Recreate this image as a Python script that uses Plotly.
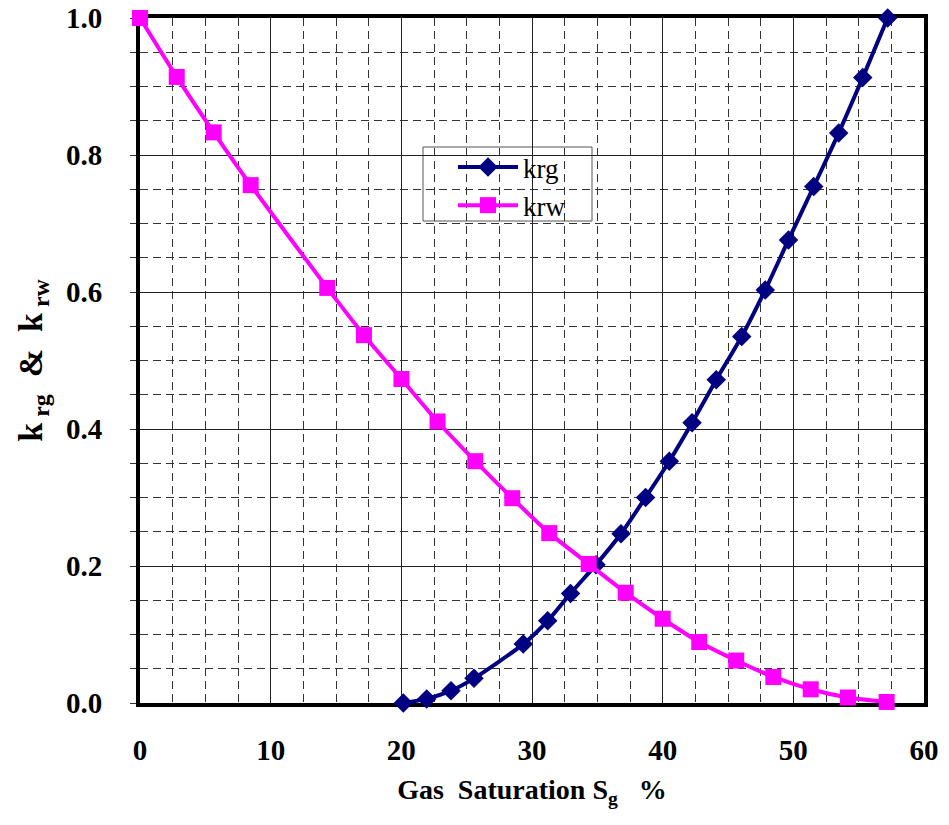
import plotly.graph_objects as go

# krg (gas relative permeability)
sg_krg = [20.15, 21.94, 23.80, 25.56, 29.33, 31.20, 32.95, 34.90, 36.81, 38.69,
          40.51, 42.25, 44.10, 46.05, 47.85, 49.63, 51.56, 53.47, 55.31, 57.22]
krg = [0.0, 0.006, 0.018, 0.036, 0.086, 0.120, 0.160, 0.202, 0.247, 0.300,
       0.353, 0.409, 0.472, 0.535, 0.603, 0.676, 0.754, 0.832, 0.913, 1.0]

# krw (water relative permeability)
sg_krw = [0.0, 2.81, 5.64, 8.47, 14.33, 17.14, 20.01, 22.77, 25.66, 28.49,
          31.32, 34.34, 37.17, 40.00, 42.80, 45.63, 48.47, 51.33, 54.18, 57.14]
krw = [1.0, 0.914, 0.833, 0.756, 0.606, 0.537, 0.473, 0.411, 0.353, 0.299,
       0.248, 0.203, 0.161, 0.123, 0.089, 0.062, 0.038, 0.020, 0.008, 0.0015]

x_ticks = [0, 10, 20, 30, 40, 50, 60]
y_ticks = [0.0, 0.2, 0.4, 0.6, 0.8, 1.0]
y_tick_labels = ["0.0", "0.2", "0.4", "0.6", "0.8", "1.0"]

FONT = "Liberation Serif"

fig = go.Figure()
fig.add_trace(go.Scatter(
    x=sg_krg, y=krg, name="krg", mode="lines+markers",
    line=dict(color="#000080", width=4, shape="spline", smoothing=0.6),
    marker=dict(symbol="diamond", size=15, color="#000080"),
    cliponaxis=False,
))
fig.add_trace(go.Scatter(
    x=sg_krw, y=krw, name="krw", mode="lines+markers",
    line=dict(color="#FF00FF", width=4, shape="spline", smoothing=0.6),
    marker=dict(symbol="square", size=16, color="#FF00FF"),
    cliponaxis=False,
))

# legend box
fig.add_shape(type="rect", xref="paper", yref="paper",
              x0=(423 - 140) / 784, x1=(592 - 140) / 784,
              y0=(703 - 221) / 685, y1=(703 - 147) / 685,
              line=dict(color="#555555", width=1), fillcolor="white", layer="below")

fig.update_layout(
    width=949, height=825,
    margin=dict(l=140, r=25, t=18, b=122, autoexpand=False),
    plot_bgcolor="white", paper_bgcolor="white",
    font=dict(family=FONT, color="black"),
    showlegend=True,
    legend=dict(
        x=(453 - 140) / 784, y=(703 - 143) / 685, xanchor="left", yanchor="top",
        bgcolor="rgba(0,0,0,0)", borderwidth=0,
        font=dict(family=FONT, size=27, color="black"),
        itemwidth=60, tracegroupgap=0,
    ),
    xaxis=dict(
        range=[0, 60], tickvals=x_ticks, automargin=False,
        showline=True, mirror=True, linecolor="black", linewidth=4,
        ticks="", showgrid=True, gridcolor="#222222", gridwidth=1,
        minor=dict(dtick=2.5, showgrid=True, gridcolor="#333333", gridwidth=1,
                   griddash="8px,5px", ticks=""),
        zeroline=False, ticklabelstandoff=18,
        tickfont=dict(family=FONT, size=29, weight="bold"),
        title=dict(text="Gas  Saturation S<sub>g</sub>   %",
                   font=dict(family=FONT, size=28, weight="bold"), standoff=16),
        layer="below traces",
    ),
    yaxis=dict(
        range=[0, 1], tickvals=y_ticks, ticktext=y_tick_labels, automargin=False,
        showline=True, mirror=True, linecolor="black", linewidth=4,
        ticks="outside", ticklen=6, tickcolor="#333333", tickwidth=1,
        showgrid=True, gridcolor="#222222", gridwidth=1,
        minor=dict(dtick=0.05, showgrid=True, gridcolor="#333333", gridwidth=1,
                   griddash="8px,5px", ticks="outside", ticklen=6,
                   tickcolor="#333333", tickwidth=1),
        zeroline=False, ticklabelstandoff=22,
        tickfont=dict(family=FONT, size=29, weight="bold"),
        title=dict(text="k<sub> rg</sub>  &  k<sub> rw</sub>",
                   font=dict(family=FONT, size=34, weight="bold"), standoff=14),
        layer="below traces",
    ),
)

fig.write_html("out.html")
